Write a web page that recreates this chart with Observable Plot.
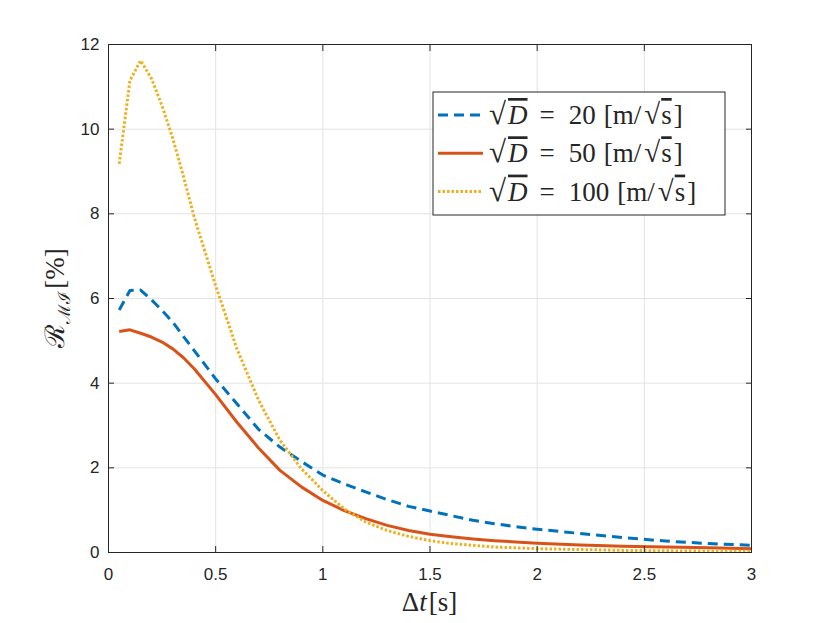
<!DOCTYPE html>
<html><head><meta charset="utf-8">
<script src="https://cdn.jsdelivr.net/npm/d3@7"></script>
<script src="https://cdn.jsdelivr.net/npm/@observablehq/plot@0.6"></script>
<style>body{margin:0;background:#fff} svg{display:block}</style>
</head><body><div id="chart"></div>
<script>
// Δt [s]
const dt = [0.05,0.1,0.15,0.2,0.25,0.3,0.35,0.4,0.5,0.6,0.7,0.8,0.9,1.0,1.1,1.2,1.3,1.4,1.5,1.6,1.7,1.8,1.9,2.0,2.2,2.4,2.6,2.8,3.0];
// R_MI [%] per sqrt(D)
const rD20  = [5.73,6.19,6.20,5.97,5.72,5.44,5.10,4.77,4.10,3.51,2.91,2.49,2.15,1.83,1.62,1.43,1.25,1.09,0.98,0.87,0.76,0.68,0.61,0.55,0.45,0.35,0.27,0.21,0.17];
const rD50  = [5.22,5.26,5.18,5.09,4.97,4.81,4.60,4.34,3.73,3.07,2.47,1.94,1.55,1.23,0.99,0.80,0.64,0.52,0.43,0.37,0.32,0.28,0.25,0.22,0.18,0.15,0.13,0.11,0.09];
const rD100 = [9.18,11.15,11.62,11.20,10.55,9.78,8.88,7.92,6.30,4.80,3.60,2.65,1.98,1.46,1.03,0.72,0.52,0.38,0.28,0.21,0.17,0.13,0.11,0.09,0.07,0.05,0.04,0.03,0.03];
const sqrtD = ["20","50","100"];
const seriesColors = ["#0072BD","#D95319","#EDB120"];
const xTicks = [0,0.5,1,1.5,2,2.5,3];
const yTicks = [0,2,4,6,8,10,12];

const seriesValues = [rD20, rD50, rD100];
const dashes = ["10,6", "none", "2.5,2"];
const tables = seriesValues.map((vals, i) => dt.map((x, j) => ({x, y: vals[j], s: sqrtD[i]})));

const W = 830, H = 623, mL = 108, mR = 79, mT = 44, mB = 71;
const axisColor = "#262626";
const gridColor = "#e3e3e3";
const fmt = d => String(d);

const chart = Plot.plot({
  width: W, height: H,
  marginLeft: mL, marginRight: mR, marginTop: mT, marginBottom: mB,
  style: {fontFamily: "'Liberation Sans', Arial, sans-serif", fontSize: "17px", color: axisColor, background: "#fff"},
  x: {domain: [0, 3]},
  y: {domain: [0, 12]},
  marks: [
    Plot.gridX(xTicks, {stroke: gridColor, strokeOpacity: 1}),
    Plot.gridY(yTicks, {stroke: gridColor, strokeOpacity: 1}),
    ...tables.map((t, i) => Plot.line(t, {
      x: "x", y: "y", stroke: seriesColors[i], strokeWidth: 3,
      strokeDasharray: dashes[i], strokeLinecap: "butt", strokeLinejoin: "round"
    })),
    Plot.axisX(xTicks, {anchor: "bottom", tickSize: -6, tickFormat: () => "", label: null, stroke: axisColor}),
    Plot.axisX(xTicks, {anchor: "top", tickSize: -6, tickFormat: () => "", label: null, stroke: axisColor}),
    Plot.axisY(yTicks, {anchor: "left", tickSize: -6, tickFormat: () => "", label: null, stroke: axisColor}),
    Plot.axisY(yTicks, {anchor: "right", tickSize: -6, tickFormat: () => "", label: null, stroke: axisColor}),
    Plot.axisX(xTicks, {anchor: "bottom", tickSize: 0, tickPadding: 15, label: null, fill: axisColor, tickFormat: fmt}),
    Plot.axisY(yTicks, {anchor: "left", tickSize: 0, tickPadding: 9, label: null, fill: axisColor, tickFormat: fmt}),
    Plot.frame({stroke: axisColor, strokeWidth: 1})
  ]
});
document.getElementById("chart").appendChild(chart);

const svg = d3.select(chart);
const serif = "'Liberation Serif', 'DejaVu Serif', serif";

// x label
const xl = svg.append("text")
  .attr("x", (mL + (W - mR)) / 2).attr("y", 611)
  .attr("text-anchor", "middle")
  .style("font-family", serif).style("font-size", "27px").attr("fill", axisColor);
xl.append("tspan").text("Δ");
xl.append("tspan").style("font-style", "italic").text("t");
xl.append("tspan").attr("dx", 2).text("[s]");

// y label
const yl = svg.append("text")
  .attr("transform", `translate(64,${(mT + (H - mB)) / 2}) rotate(-90)`)
  .attr("text-anchor", "middle")
  .style("font-family", serif).style("font-size", "27px").attr("fill", axisColor);
yl.append("tspan").text("ℛ");
yl.append("tspan").attr("dy", 6).style("font-size", "17px").text("ℳℐ");
yl.append("tspan").attr("dy", -6).attr("dx", 2).text("[%]");

// legend
const lg = svg.append("g");
const lx0 = 433, ly0 = 92, lw = 292, lh = 123;
lg.append("rect").attr("x", lx0).attr("y", ly0).attr("width", lw).attr("height", lh)
  .attr("fill", "#fff").attr("stroke", axisColor).attr("stroke-width", 1);
sqrtD.forEach((name, i) => {
  const cy = 115 + i * 38.3;
  lg.append("line").attr("x1", 438).attr("x2", 483).attr("y1", cy).attr("y2", cy)
    .attr("stroke", seriesColors[i]).attr("stroke-width", 3)
    .attr("stroke-dasharray", dashes[i]).attr("stroke-linecap", "butt");
  const t = lg.append("text").attr("x", 489).attr("y", cy + 9)
    .attr("text-anchor", "start")
    .style("font-family", serif).style("font-size", "27px").attr("fill", axisColor);
  t.append("tspan").style("font-size", "31px").text("√");
  t.append("tspan").attr("dx", 2).style("font-style", "italic").style("text-decoration", "overline").text("D");
  t.append("tspan").attr("dx", 12).text("=");
  t.append("tspan").attr("dx", 14).text(name);
  t.append("tspan").attr("dx", 8).text("[m/");
  t.append("tspan").attr("dx", 3).style("font-size", "29px").text("√");
  t.append("tspan").attr("dx", 1).style("text-decoration", "overline").text("s");
  t.append("tspan").attr("dx", 2).text("]");
});
</script>
</body></html>
